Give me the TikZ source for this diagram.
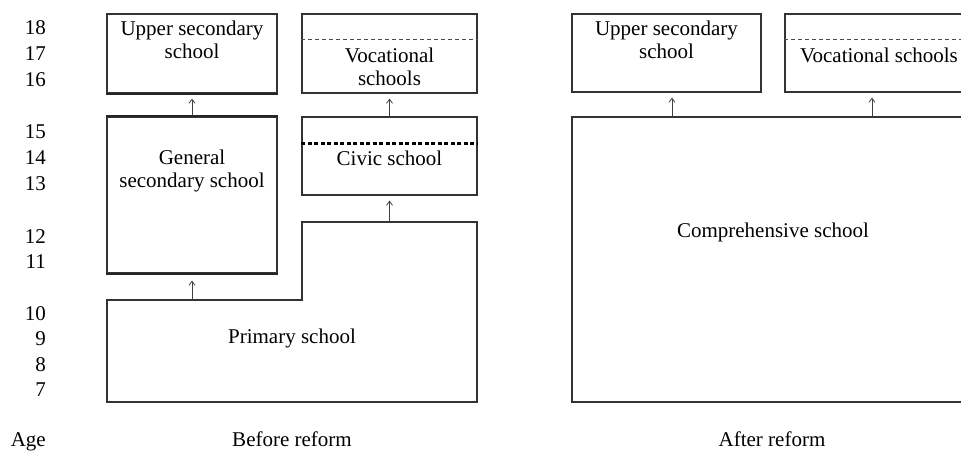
\documentclass[tikz,border=0pt]{standalone}
\usepackage{fontspec}
\setmainfont{Liberation Serif}
\usetikzlibrary{arrows.meta,calc,positioning}

\begin{document}
\begin{tikzpicture}[x=1pt,y=-1pt,>={Straight Barb[length=4pt,width=6pt]},
  font=\fontsize{21}{23}\selectfont,
  box/.style={draw=black!80,line width=1.2pt,inner sep=0pt},
  thickedge/.style={black!85,line width=2pt},
  lbl/.style={anchor=base,inner sep=0pt,align=center},
  agelbl/.style={anchor=base east,inner sep=0pt},
  upar/.style={->,line width=0.8pt,black!75,shorten >=5pt},
  thindash/.style={black!70,line width=0.8pt,dash pattern=on 4pt off 3pt},
  bolddash/.style={black,line width=2.2pt,dash pattern=on 4pt off 2.5pt}]
  \useasboundingbox (0,0) rectangle (961,450);
  \clip (0,0) rectangle (961,450);

  % age scale
  \foreach \a/\yb in {18/34.5,17/60.5,16/86.5,15/138,14/164,13/190,
                      12/243,11/268,10/320,9/345,8/371,7/396}
    \node[agelbl] (age\a) at (46,\yb) {\a};
  \node[agelbl] (agetitle) at (46,446) {Age};

  % before reform: boxes
  \node[box,minimum width=170pt,minimum height=79pt] (usecB) at (192,53.5) {};
  \node[box,minimum width=175pt,minimum height=79pt] (vocB) at (389.5,53.5) {};
  \node[box,minimum width=170pt,minimum height=156pt] (gensecB) at (192,195) {};
  \node[box,minimum width=175pt,minimum height=78pt] (civicB) at (389.5,156) {};
  \draw[thickedge] (usecB.south west) -- (usecB.south east);
  \draw[thickedge] (gensecB.north west) -- (gensecB.north east);
  \draw[thickedge] (gensecB.south west) -- (gensecB.south east);
  \draw[thindash] ($(vocB.north west)+(0,26)$) -- ($(vocB.north east)+(0,26)$);
  \draw[bolddash] ($(civicB.north west)+(0,27)$) -- ($(civicB.north east)+(0,27)$);

  % primary school, stepped outline
  \coordinate (prA) at (192,300);
  \coordinate (prB) at (389.5,222);
  \draw[black!80,line width=1.2pt] (107,300) -- (302,300) -- (302,222) -- (477,222)
    -- (477,402) -- (107,402) -- cycle;

  % two-line texts sit on their last baseline
  \node[lbl] (usecBt) at (192,58) {Upper secondary\\school};
  \node[lbl] (vocBt) at (389.5,85) {Vocational\\schools};
  \node[lbl] (gensecBt) at (192,187) {General\\secondary school};
  \node[lbl] (civicBt) at (389.5,165) {Civic school};
  \node[lbl] (primBt) at (292,343) {Primary school};
  \node[lbl] (beforet) at (292,446) {Before reform};

  \draw[upar] (gensecB.north) -- (usecB.south);
  \draw[upar] (civicB.north) -- (vocB.south);
  \draw[upar,shorten >=7pt] (prA) -- (gensecB.south);
  \draw[upar] (prB) -- (civicB.south);

  % after reform
  \node[box,minimum width=189pt,minimum height=78pt] (usecA) at (666.5,53) {};
  \node[box,minimum width=189pt,minimum height=78pt] (vocA) at (879.5,53) {};
  \node[box,minimum width=402pt,minimum height=285pt] (compA) at (773,259.5) {};
  \draw[thindash] ($(vocA.north west)+(0,26)$) -- ($(vocA.north east)+(0,26)$);
  \coordinate (cmpL) at (672,117);
  \coordinate (cmpR) at (872,117);

  \node[lbl] (usecAt) at (666.5,58) {Upper secondary\\school};
  \node[lbl] (vocAt) at (879,62) {Vocational schools};
  \node[lbl] (compAt) at (773,237) {Comprehensive school};
  \node[lbl] (aftert) at (772,446) {After reform};

  \draw[upar] (cmpL) -- (cmpL |- usecA.south);
  \draw[upar] (cmpR) -- (cmpR |- vocA.south);
\end{tikzpicture}
\end{document}
